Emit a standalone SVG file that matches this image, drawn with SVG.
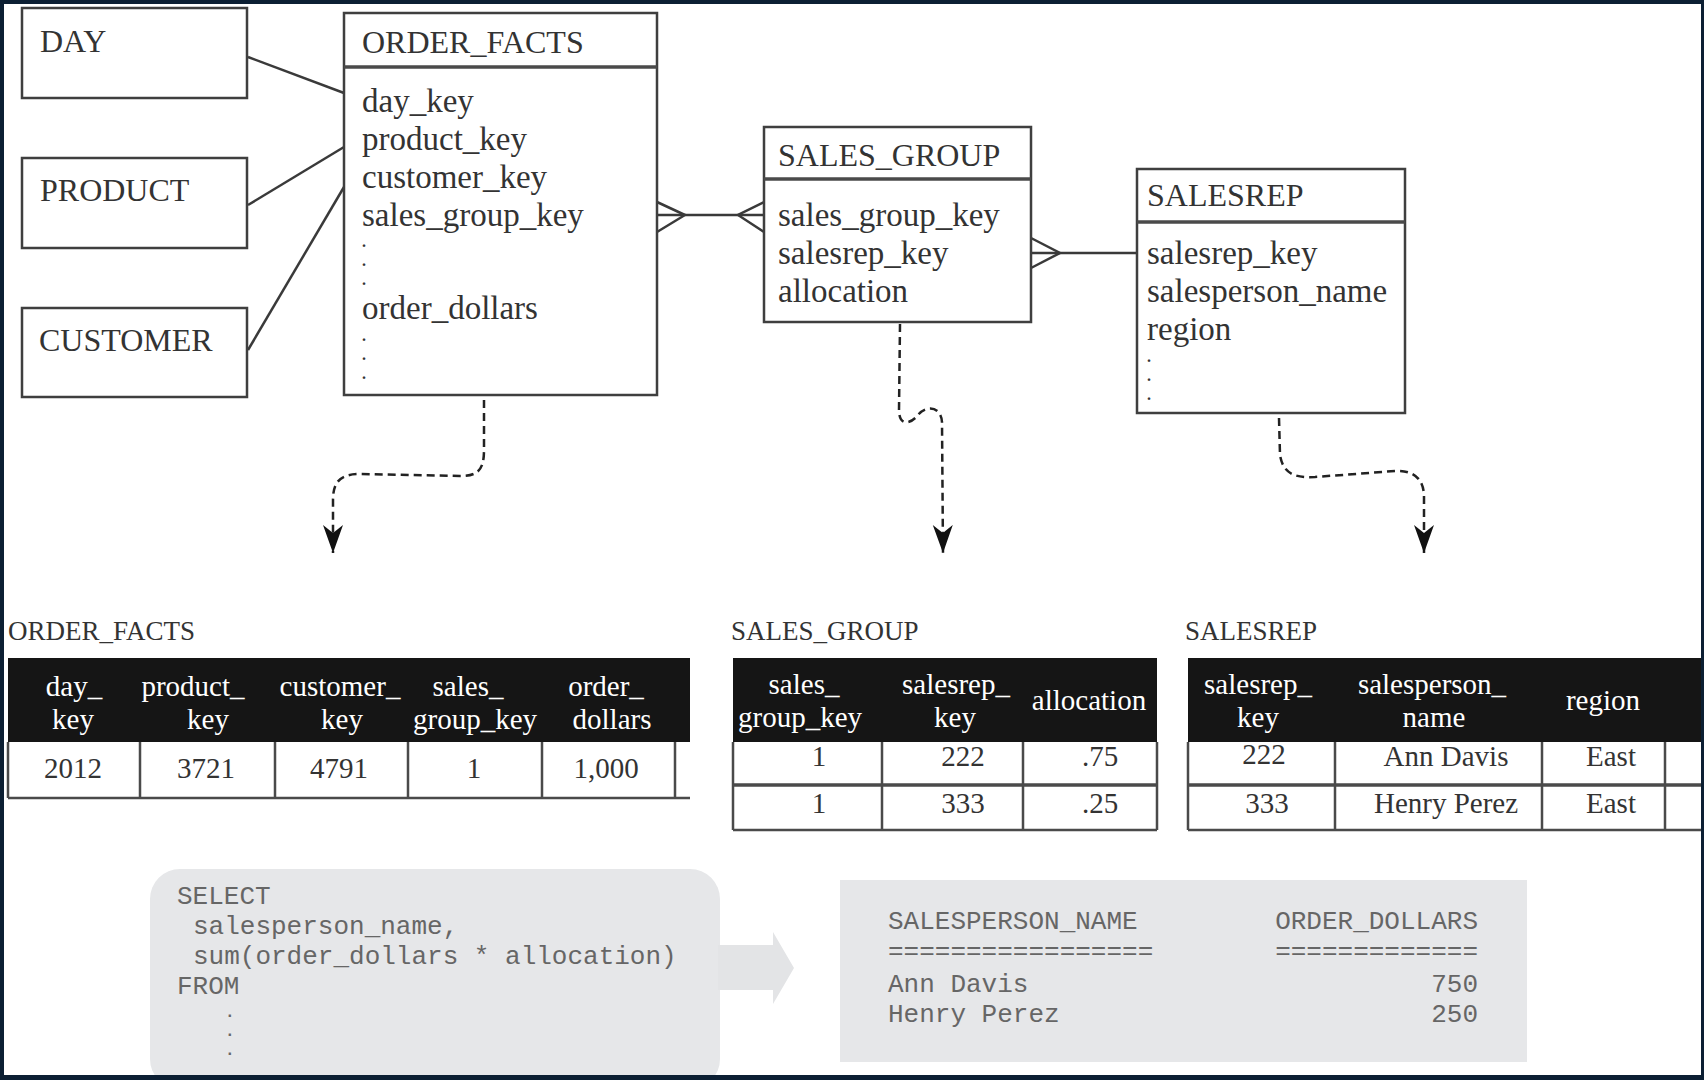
<svg xmlns="http://www.w3.org/2000/svg" width="1704" height="1080" viewBox="0 0 1704 1080">
<style>
.bg{fill:#ffffff}
.frame{fill:#0c1f33}
.box{fill:#ffffff;stroke:#3f3f3f;stroke-width:2.5}
.div{stroke:#4a4a4a;stroke-width:3.5}
.t{font-family:"Liberation Serif",serif;fill:#333333}
.title{font-size:32px}
.fld{font-size:33px}
.dot{font-family:"Liberation Serif",serif;fill:#333333;font-size:16px;font-weight:bold}
.lbl{font-size:27px}
.th{font-family:"Liberation Serif",serif;font-size:29px;fill:#ffffff;text-anchor:middle}
.td{font-family:"Liberation Serif",serif;font-size:29px;fill:#333333;text-anchor:middle}
.ln{stroke:#3a3a3a;stroke-width:2.5;fill:none}
.dash{stroke:#222222;stroke-width:2.5;fill:none;stroke-dasharray:8 5}
.band{fill:#151515}
.grid{stroke:#4a4a4a;stroke-width:2.5;fill:none}
.grid2{stroke:#4a4a4a;stroke-width:3.5;fill:none}
.gray{fill:#e6e7e9}
.mono{font-family:"Liberation Mono",monospace;font-size:26px;fill:#666666}
.mdot{font-family:"Liberation Mono",monospace;font-size:16px;font-weight:bold;fill:#666666}
.end{text-anchor:end}
</style>
<defs>
<marker id="ah" viewBox="0 -12 30 24" markerWidth="30" markerHeight="24" refX="28" refY="0" orient="auto" markerUnits="userSpaceOnUse">
<path d="M0,-10 L28,0 L0,10 L8,0 Z" fill="#111111"/>
</marker>
</defs>
<rect class="bg" x="0" y="0" width="1704" height="1080"/>

<g id="connectors">
<line class="ln" x1="248" y1="57" x2="344" y2="93"/>
<line class="ln" x1="248" y1="205" x2="344" y2="147"/>
<line class="ln" x1="248" y1="350" x2="344" y2="187"/>
<line class="ln" x1="657" y1="215" x2="764" y2="215"/>
<polyline class="ln" points="657,202 685,215 657,232"/>
<polyline class="ln" points="764,202 738,215 764,232"/>
<line class="ln" x1="1031" y1="253" x2="1137" y2="253"/>
<polyline class="ln" points="1031,238 1060,253 1031,268"/>
<path class="dash" d="M484,400 L484,450 C484,470 478,476 460,476 L360,474 C340,474 333,482 333,500 L333,553" marker-end="url(#ah)"/>
<path class="dash" d="M900,324 L899,410 C899,426 910,425 918,415 C926,405 941,406 942,422 L943,553" marker-end="url(#ah)"/>
<path class="dash" d="M1279,418 L1280,455 C1283,474 1295,478 1315,477 L1395,471 C1415,470 1424,480 1424,497 L1424,553" marker-end="url(#ah)"/>
</g>

<g id="day">
<rect class="box" x="22" y="8" width="225" height="90"/>
<text class="t title" x="40" y="52">DAY</text>
</g>
<g id="product">
<rect class="box" x="22" y="158" width="225" height="90"/>
<text class="t title" x="40" y="201">PRODUCT</text>
</g>
<g id="customer">
<rect class="box" x="22" y="308" width="225" height="89"/>
<text class="t title" x="39" y="351">CUSTOMER</text>
</g>

<g id="order_facts">
<rect class="box" x="344" y="13" width="313" height="382"/>
<line class="div" x1="344" y1="67" x2="657" y2="67"/>
<text class="t title" x="362" y="53">ORDER_FACTS</text>
<text class="t fld" x="362" y="112">day_key</text>
<text class="t fld" x="362" y="150">product_key</text>
<text class="t fld" x="362" y="188">customer_key</text>
<text class="t fld" x="362" y="226">sales_group_key</text>
<text class="dot" x="362" y="247">.</text>
<text class="dot" x="362" y="266">.</text>
<text class="dot" x="362" y="285">.</text>
<text class="t fld" x="362" y="319">order_dollars</text>
<text class="dot" x="362" y="341">.</text>
<text class="dot" x="362" y="360">.</text>
<text class="dot" x="362" y="379">.</text>
</g>

<g id="sales_group">
<rect class="box" x="764" y="127" width="267" height="195"/>
<line class="div" x1="764" y1="179" x2="1031" y2="179"/>
<text class="t title" x="778" y="166">SALES_GROUP</text>
<text class="t fld" x="778" y="226">sales_group_key</text>
<text class="t fld" x="778" y="264">salesrep_key</text>
<text class="t fld" x="778" y="302">allocation</text>
</g>

<g id="salesrep">
<rect class="box" x="1137" y="169" width="268" height="244"/>
<line class="div" x1="1137" y1="222" x2="1405" y2="222"/>
<text class="t title" x="1147" y="206">SALESREP</text>
<text class="t fld" x="1147" y="264">salesrep_key</text>
<text class="t fld" x="1147" y="302">salesperson_name</text>
<text class="t fld" x="1147" y="340">region</text>
<text class="dot" x="1147" y="362">.</text>
<text class="dot" x="1147" y="381">.</text>
<text class="dot" x="1147" y="400">.</text>
</g>

<g id="table_order_facts">
<text class="t lbl" x="8" y="640">ORDER_FACTS</text>
<rect class="band" x="8" y="658" width="682" height="84"/>
<path class="grid" d="M8,742 V798 M140,742 V798 M275,742 V798 M408,742 V798 M542,742 V798 M675,742 V798 M8,798 H690"/>
<text class="th" x="74" y="696">day_</text>
<text class="th" x="73" y="729">key</text>
<text class="th" x="193" y="696">product_</text>
<text class="th" x="208" y="729">key</text>
<text class="th" x="340" y="696">customer_</text>
<text class="th" x="342" y="729">key</text>
<text class="th" x="468" y="696">sales_</text>
<text class="th" x="475" y="729">group_key</text>
<text class="th" x="606" y="696">order_</text>
<text class="th" x="612" y="729">dollars</text>
<text class="td" x="73" y="778">2012</text>
<text class="td" x="206" y="778">3721</text>
<text class="td" x="339" y="778">4791</text>
<text class="td" x="474" y="778">1</text>
<text class="td" x="606" y="778">1,000</text>
</g>

<g id="table_sales_group">
<text class="t lbl" x="731" y="640">SALES_GROUP</text>
<rect class="band" x="733" y="658" width="424" height="84"/>
<path class="grid" d="M733,742 V830 M882,742 V830 M1023,742 V830 M1157,742 V830 M733,830 H1157"/>
<path class="grid2" d="M733,785 H1157"/>
<text class="th" x="804" y="694">sales_</text>
<text class="th" x="800" y="727">group_key</text>
<text class="th" x="956" y="694">salesrep_</text>
<text class="th" x="955" y="727">key</text>
<text class="th" x="1089" y="710">allocation</text>
<text class="td" x="819" y="766">1</text>
<text class="td" x="963" y="766">222</text>
<text class="td" x="1100" y="766">.75</text>
<text class="td" x="819" y="813">1</text>
<text class="td" x="963" y="813">333</text>
<text class="td" x="1100" y="813">.25</text>
</g>

<g id="table_salesrep">
<text class="t lbl" x="1185" y="640">SALESREP</text>
<rect class="band" x="1188" y="658" width="513" height="84"/>
<path class="grid" d="M1188,742 V830 M1335,742 V830 M1542,742 V830 M1665,742 V830 M1188,830 H1701"/>
<path class="grid2" d="M1188,785 H1701"/>
<text class="th" x="1258" y="694">salesrep_</text>
<text class="th" x="1258" y="727">key</text>
<text class="th" x="1432" y="694">salesperson_</text>
<text class="th" x="1434" y="727">name</text>
<text class="th" x="1603" y="710">region</text>
<text class="td" x="1264" y="764">222</text>
<text class="td" x="1446" y="766">Ann Davis</text>
<text class="td" x="1611" y="766">East</text>
<text class="td" x="1267" y="813">333</text>
<text class="td" x="1446" y="813">Henry Perez</text>
<text class="td" x="1611" y="813">East</text>
</g>

<g id="query">
<rect class="gray" x="150" y="869" width="570" height="220" rx="30" ry="30"/>
<text class="mono" x="177" y="904">SELECT</text>
<text class="mono" x="193" y="934">salesperson_name,</text>
<text class="mono" x="193" y="964">sum(order_dollars * allocation)</text>
<text class="mono" x="177" y="994">FROM</text>
<text class="mdot" x="225" y="1017">.</text>
<text class="mdot" x="225" y="1036">.</text>
<text class="mdot" x="225" y="1055">.</text>
</g>

<g id="flow_arrow">
<polygon fill="#e3e4e6" points="718,945 773,945 773,932 794,968 773,1004 773,990 718,990"/>
</g>

<g id="result">
<rect class="gray" x="840" y="880" width="687" height="182"/>
<text class="mono" x="888" y="929">SALESPERSON_NAME</text>
<text class="mono end" x="1478" y="929">ORDER_DOLLARS</text>
<text class="mono" x="888" y="959">=================</text>
<text class="mono end" x="1478" y="959">=============</text>
<text class="mono" x="888" y="992">Ann Davis</text>
<text class="mono end" x="1478" y="992">750</text>
<text class="mono" x="888" y="1022">Henry Perez</text>
<text class="mono end" x="1478" y="1022">250</text>
</g>

<g id="frame">
<rect class="frame" x="0" y="0" width="1704" height="4"/>
<rect class="frame" x="0" y="1075" width="1704" height="5"/>
<rect class="frame" x="0" y="0" width="4" height="1080"/>
<rect class="frame" x="1701" y="0" width="3" height="1080"/>
</g>
</svg>
